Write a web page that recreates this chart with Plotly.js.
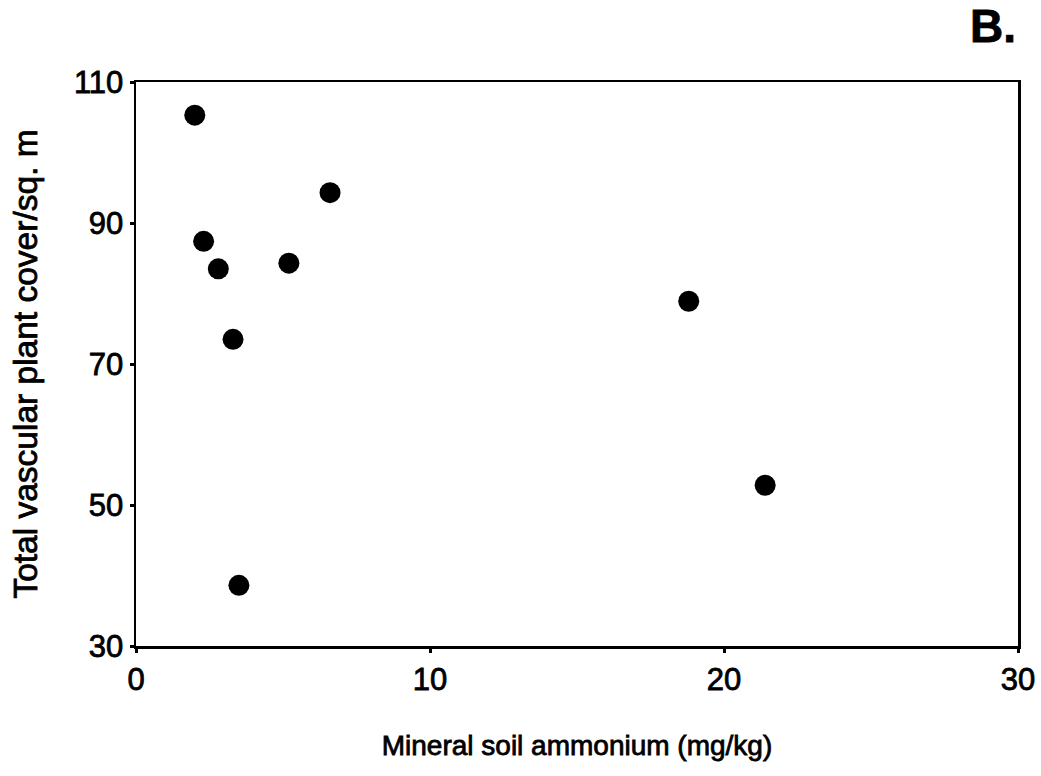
<!DOCTYPE html>
<html>
<head>
<meta charset="utf-8">
<script src="https://cdn.plot.ly/plotly-3.0.1.min.js"></script>
<style>
html,body{margin:0;padding:0;background:#fff;}
#chart{width:1041px;height:776px;}
#chart text{stroke:#000;stroke-width:0.8px;paint-order:stroke;}
</style>
</head>
<body>
<div id="chart"></div>
<script>
const ammonium = [2.0, 2.3, 2.8, 5.2, 6.6, 3.3, 3.5, 18.8, 21.4];
const cover = [105.3, 87.4, 83.5, 84.3, 94.3, 73.5, 38.6, 78.9, 52.8];
const xTicks = [0, 10, 20, 30];
const yTicks = [30, 50, 70, 90, 110];

const font = {family: 'Liberation Sans, Arial, sans-serif', color: '#000'};
Plotly.newPlot('chart', [{
  x: ammonium, y: cover, type: 'scatter', mode: 'markers',
  marker: {color: '#000', size: 21, line: {width: 0}}
}], {
  width: 1041, height: 776,
  margin: {l: 136, r: 23, t: 82, b: 130},
  paper_bgcolor: '#fff', plot_bgcolor: '#fff',
  showlegend: false,
  xaxis: {
    range: [0, 30], tickvals: xTicks, ticktext: xTicks.map(String),
    showgrid: false, zeroline: false, showline: true, mirror: true,
    linecolor: '#000', linewidth: 2.5, ticks: 'outside', ticklen: 4, tickwidth: 3, tickcolor: '#000',
    tickfont: Object.assign({size: 31}, font),
    title: {text: 'Mineral soil ammonium (mg/kg)', font: Object.assign({size: 28}, font), standoff: 40}
  },
  yaxis: {
    range: [30, 110], tickvals: yTicks, ticktext: yTicks.map(String),
    showgrid: false, zeroline: false, showline: true, mirror: true,
    linecolor: '#000', linewidth: 2.5, ticks: 'outside', ticklen: 4, tickwidth: 3, tickcolor: '#000',
    tickfont: Object.assign({size: 31}, font),
    title: {text: 'Total vascular plant cover/sq. m', font: Object.assign({size: 33.5}, font), standoff: 26}
  },
  annotations: [{
    text: '<b>B.</b>', xref: 'paper', yref: 'paper', x: 1.0, y: 1.0,
    xanchor: 'right', yanchor: 'bottom', yshift: 28, xshift: 0, showarrow: false,
    font: Object.assign({size: 46}, font)
  }]
}, {displayModeBar: false, staticPlot: true});
</script>
</body>
</html>
